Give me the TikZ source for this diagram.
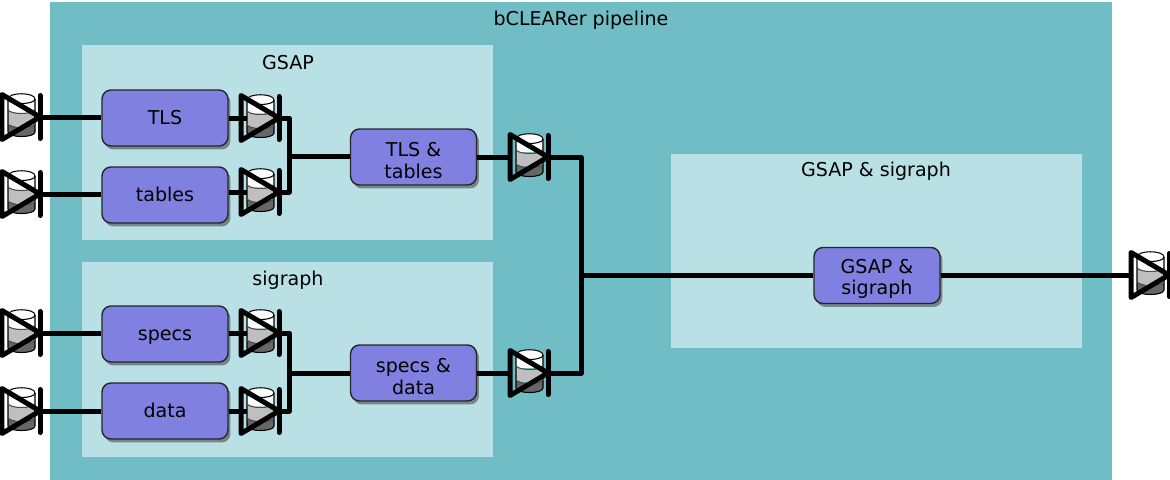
\documentclass[tikz,border=0pt]{standalone}
\usepackage{fontspec}
\setmainfont{DejaVu Sans}
\usetikzlibrary{shadows}

\definecolor{pipelineteal}{HTML}{70BDC5}
\definecolor{stagepale}{HTML}{B9E0E5}
\definecolor{stepblue}{HTML}{8080E0}

\newcommand{\lowerline}{\rule{0pt}{0.42cm}}

\tikzset{
  stagebox/.style={fill=stagepale,minimum width=8.22cm,minimum height=3.9cm,inner sep=0pt},
  titletext/.style={font=\fontsize{10.85}{12.5}\selectfont,inner sep=0pt},
  stepbox/.style={draw=black!85,thick,fill=stepblue,rounded corners=0.18cm,minimum width=2.52cm,minimum height=1.12cm,
    align=center,inner sep=0pt,font=\fontsize{10.85}{12.5}\selectfont,
    drop shadow={shadow xshift=0.05cm,shadow yshift=-0.07cm,fill=black!70,opacity=0.6}},
  oneline/.style={text height=7.6pt,text depth=0pt},
  pipe/.style={line width=0.1cm,line join=round},
  pics/store/.style={code={
    \fill[white] (-13,-18) .. controls (-13,-25) and (14,-25) .. (14,-18) -- (14,-5) -- (-13,-5) -- cycle; % top
    \fill[black!25] (-13,-8) .. controls (-13,-2) and (14,-2) .. (14,-8) -- (14,9) -- (-13,9) -- cycle; % middle
    \fill[black!60] (-13,6) .. controls (-13,12) and (14,12) .. (14,6) -- (14,15) .. controls (14,21) and (-13,21) .. (-13,15) -- cycle; % bottom
    \draw[black,semithick] (-13,-18) .. controls (-13,-25) and (14,-25) .. (14,-18) .. controls (14,-12) and (-13,-12) .. (-13,-18);
    \draw[black,semithick] (-13,-18) -- (-13,15) .. controls (-13,21) and (14,21) .. (14,15) -- (14,-18);
    \draw[black!70,semithick] (-13,-8) .. controls (-13,-2) and (14,-2) .. (14,-8);
    \draw[black!70,semithick] (-13,6) .. controls (-13,12) and (14,12) .. (14,6);
    \draw[line width=0.1cm,line join=round,line cap=round] (-19,-22.5) -- (19,0) -- (-19,22.5) -- cycle; % triangle
    \draw[line width=0.1cm,line cap=round] (19,-21.5) -- (19,21.5); % bar
    \coordinate (-in) at (-19,0);
    \coordinate (-out) at (19,0);
  }}
}

\begin{document}
\begin{tikzpicture}[x=0.02cm,y=-0.02cm]
\useasboundingbox (0,0) rectangle (1170,480);
\fill[pipelineteal] (50,2) rectangle (1112,480); % pipeline
\node[titletext] (pipelinetitle) at (581,20.5) {bCLEARer pipeline};

\node[stagebox] (gsapstage) at (287.5,142.5) {};
\node[stagebox] (sigraphstage) at (287.5,359.5) {};
\node[stagebox] (mergestage) at (876.5,251) {};
\node[titletext] (gsaptitle) at (288,62.5) {GSAP};
\node[titletext] (sigraphtitle) at (288,280.5) {sigraph};
\node[titletext] (mergetitle) at (876,171) {GSAP \& sigraph};

\node[stepbox,oneline] (tls) at (165,118) {TLS};
\node[stepbox,oneline] (tables) at (165,195) {tables};
\node[stepbox,oneline] (specs) at (165,334) {specs};
\node[stepbox,oneline] (data) at (165,411) {data};
\node[stepbox] (tlstables) at (413.5,157) {\lowerline TLS \&\\tables};
\node[stepbox] (specsdata) at (413.5,373) {\lowerline specs \&\\data};
\node[stepbox] (merge) at (877,275.5) {\lowerline GSAP \&\\sigraph};

% junctions
\coordinate (gsapjoin) at (289,156);
\coordinate (sigraphjoin) at (289,373);
\coordinate (mergejoin) at (581,275);

% pipes first, the icons go on top of them
\draw[pipe] (tls.east |- 0,118) -- (260,118);
\draw[pipe] (tables.east |- 0,192) -- (260,192);
\draw[pipe] (specs.east |- 0,333) -- (260,333);
\draw[pipe] (data.east |- 0,411) -- (260,411);

\path pic (tlsin) at (21,117) {store}
      pic (tablesin) at (21,194) {store}
      pic (specsin) at (21,333) {store}
      pic (datain) at (21,411) {store}
      pic (tlsout) at (260,118) {store}
      pic (tablesout) at (260,192) {store}
      pic (specsout) at (260,333) {store}
      pic (dataout) at (260,411) {store}
      pic (gsapout) at (529,157) {store}
      pic (sigraphout) at (529,373) {store}
      pic (mergeout) at (1150,275) {store};

\draw[pipe] (tlsin-out) -- (tlsin-out -| tls.west);
\draw[pipe] (tablesin-out) -- (tablesin-out -| tables.west);
\draw[pipe] (specsin-out) -- (specsin-out -| specs.west);
\draw[pipe] (datain-out) -- (datain-out -| data.west);
\draw[pipe] (tlsout-out) -| (gsapjoin);
\draw[pipe] (tablesout-out) -| (gsapjoin);
\draw[pipe] (gsapjoin) -- (gsapjoin -| tlstables.west);
\draw[pipe] (specsout-out) -| (sigraphjoin);
\draw[pipe] (dataout-out) -| (sigraphjoin);
\draw[pipe] (sigraphjoin) -- (specsdata);
\draw[pipe] (tlstables) -- (gsapout-in);
\draw[pipe] (specsdata) -- (sigraphout-in);
\draw[pipe] (gsapout-out) -| (mergejoin);
\draw[pipe] (sigraphout-out) -| (mergejoin);
\draw[pipe] (mergejoin) -- (mergejoin -| merge.west);
\draw[pipe] (merge.east |- mergeout-in) -- (mergeout-in);
\end{tikzpicture}
\end{document}
